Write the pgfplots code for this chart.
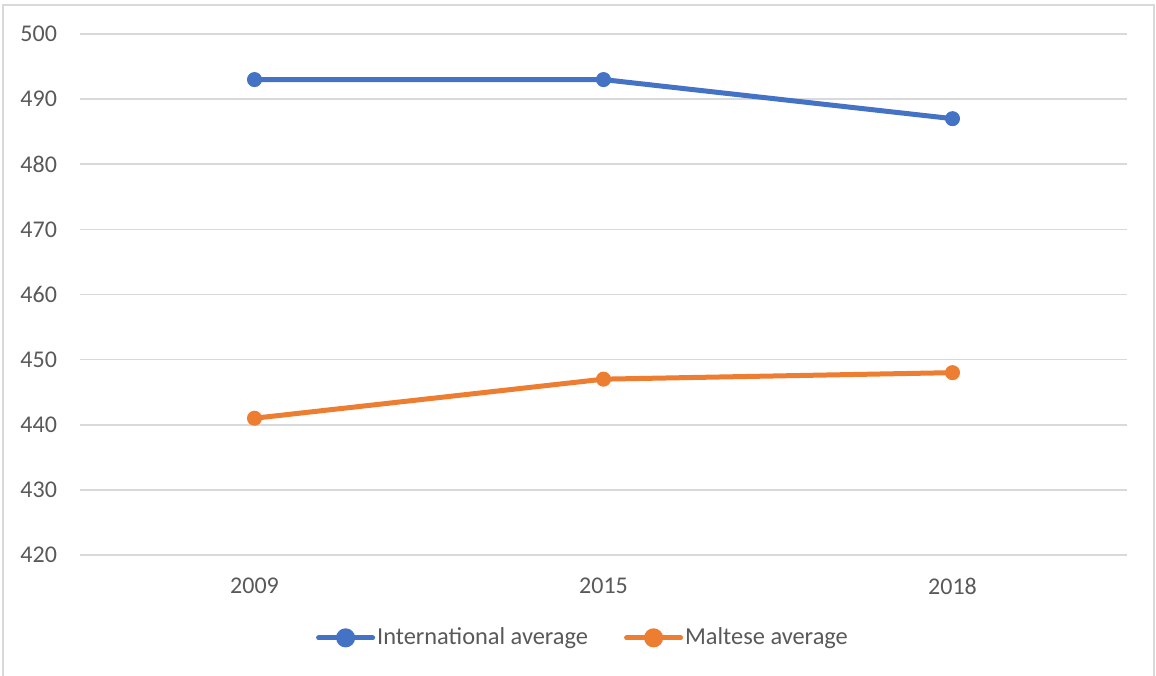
\documentclass[border=0pt]{standalone}
\usepackage{fontspec}
\setmainfont{Carlito}
\usepackage{pgfplots}
\pgfplotsset{compat=1.18}
\definecolor{cblue}{HTML}{4472C4}
\definecolor{corange}{HTML}{ED7D31}
\definecolor{cgrid}{HTML}{D9D9D9}
\definecolor{ctext}{HTML}{595959}
\begin{document}
\begin{tikzpicture}
\useasboundingbox (0,0) rectangle (578pt,337.5pt);
\draw[cgrid, line width=0.75pt] (1.5pt,-1pt) -- (1.5pt,335pt) -- (577pt,335pt) -- (577pt,-1pt);
\begin{axis}[
  at={(40pt,60pt)}, anchor=south west,
  scale only axis, width=523.5pt, height=260.5pt,
  xmin=-0.5, xmax=2.5, ymin=420, ymax=500,
  xtick={0,1,2}, xticklabels={2009,2015,2018},
  ytick={420,430,...,500},
  ymajorgrids, grid style={cgrid, line width=0.75pt},
  axis line style={draw=none},
  major tick length=0pt,
  tick label style={font=\fontsize{12}{14}\selectfont, text=ctext},
  /pgf/number format/assume math mode=true,
  /pgf/number format/1000 sep={},
  yticklabel style={xshift=-8pt},
  xticklabel style={yshift=-8pt},
  legend columns=2,
  legend style={draw=none, at={(0.4804,-0.159)}, anchor=center,
    font=\fontsize{12.2}{14}\selectfont, text=ctext,
    nodes={inner sep=1pt},
    /tikz/every even column/.append style={column sep=17pt}},
  legend image code/.code={
    \draw[#1, mark=none, line cap=round] (0pt,0pt) -- (27pt,0pt);
    \fill[#1] (13.5pt,0pt) circle (3.5pt);
  },
]
\addplot[cblue, line width=2.5pt, mark=*, mark size=3.5pt, mark options={solid, line width=0.5pt}]
  coordinates {(0,493) (1,493) (2,487)};
\addlegendentry{International average}
\addplot[corange, line width=2.5pt, mark=*, mark size=3.5pt, mark options={solid, line width=0.5pt}]
  coordinates {(0,441) (1,447) (2,448)};
\addlegendentry{Maltese average}
\end{axis}
\end{tikzpicture}
\end{document}
